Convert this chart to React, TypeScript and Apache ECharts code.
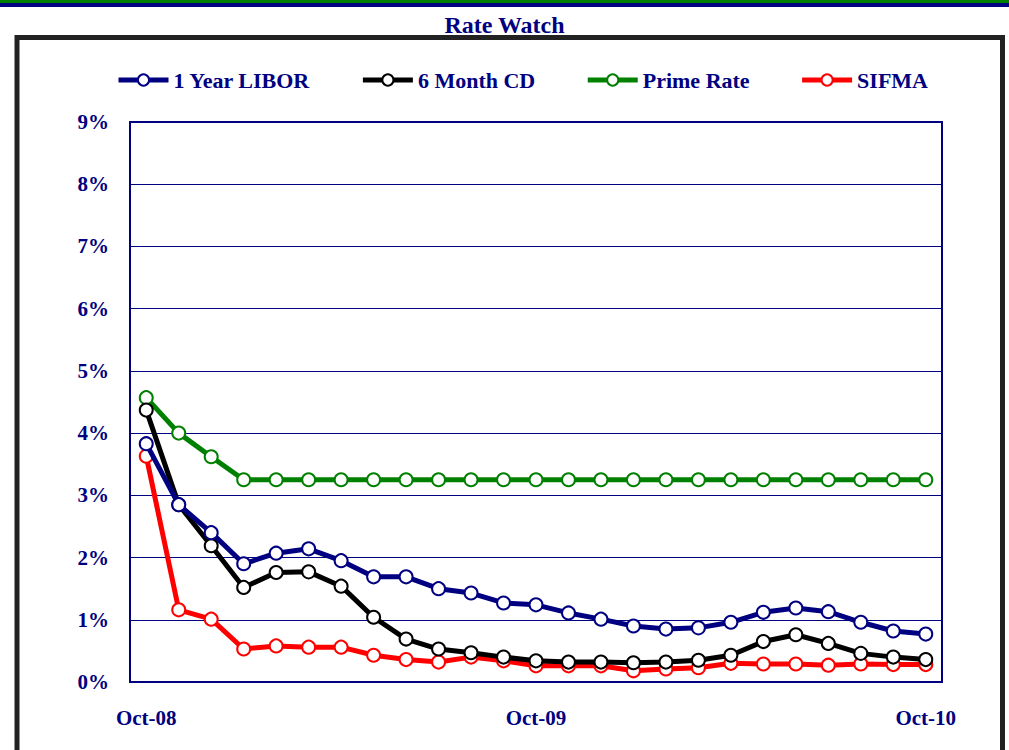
import React, { useEffect, useRef } from "react";
import * as echarts from "echarts";

const months = [
  "Oct-08", "Nov-08", "Dec-08", "Jan-09", "Feb-09", "Mar-09", "Apr-09", "May-09", "Jun-09",
  "Jul-09", "Aug-09", "Sep-09", "Oct-09", "Nov-09", "Dec-09", "Jan-10", "Feb-10", "Mar-10",
  "Apr-10", "May-10", "Jun-10", "Jul-10", "Aug-10", "Sep-10", "Oct-10",
];

const libor = [3.83, 2.85, 2.4, 1.9, 2.07, 2.14, 1.95, 1.69, 1.69, 1.5, 1.43, 1.27, 1.24, 1.11, 1.01, 0.9, 0.85, 0.87, 0.96, 1.12, 1.19, 1.13, 0.96, 0.82, 0.77];
const cd6m = [4.37, 2.85, 2.19, 1.52, 1.76, 1.77, 1.54, 1.04, 0.69, 0.53, 0.47, 0.4, 0.34, 0.32, 0.32, 0.31, 0.32, 0.35, 0.43, 0.65, 0.76, 0.62, 0.46, 0.4, 0.36];
const prime = [4.57, 4.0, 3.62, 3.25, 3.25, 3.25, 3.25, 3.25, 3.25, 3.25, 3.25, 3.25, 3.25, 3.25, 3.25, 3.25, 3.25, 3.25, 3.25, 3.25, 3.25, 3.25, 3.25, 3.25, 3.25];
const sifma = [3.63, 1.16, 1.01, 0.53, 0.58, 0.56, 0.56, 0.43, 0.36, 0.32, 0.4, 0.34, 0.26, 0.26, 0.26, 0.18, 0.21, 0.23, 0.3, 0.29, 0.29, 0.27, 0.29, 0.28, 0.28];

const seriesNames = ["1 Year LIBOR", "6 Month CD", "Prime Rate", "SIFMA"];
const seriesColors = ["#000080", "#000000", "#008000", "#FF0000"];
const seriesData = [libor, cd6m, prime, sifma];

const NAVY = "#000080";
const FONT = "'Liberation Serif', 'Times New Roman', serif";

export default function App() {
  const ref = useRef<HTMLDivElement>(null);
  useEffect(() => {
    if (!ref.current) return;
    const chart = echarts.init(ref.current, null, { renderer: "svg" });
    chart.setOption({
      animation: false,
      backgroundColor: "#ffffff",
      title: {
        text: "Rate Watch",
        left: "center",
        top: 8,
        textStyle: { fontFamily: FONT, fontWeight: "bold", fontSize: 24, color: NAVY },
      },
      graphic: [
        { type: "rect", shape: { x: 0, y: 0, width: 1009, height: 3 }, style: { fill: "#008000" } },
        { type: "rect", shape: { x: 0, y: 3, width: 1009, height: 4 }, style: { fill: "#000080" } },
        {
          type: "rect",
          shape: { x: 17, y: 37.5, width: 985.5, height: 740 },
          style: { fill: "none", stroke: "#222222", lineWidth: 5 },
        },
      ],
      legend: {
        data: seriesNames.map((name, i) => ({
          name,
          itemStyle: { color: "#ffffff", borderColor: seriesColors[i], borderWidth: 2 },
          lineStyle: { color: seriesColors[i], width: 5 },
        })),
        left: 111,
        top: 64,
        itemWidth: 50,
        itemHeight: 14,
        itemGap: 50,
        lineStyle: { width: 5 },
        textStyle: { fontFamily: FONT, fontWeight: "bold", fontSize: 22, color: NAVY },
      },
      grid: {
        left: 130,
        top: 122,
        right: 67,
        bottom: 68,
        show: true,
        borderColor: NAVY,
        borderWidth: 2,
        backgroundColor: "transparent",
      },
      xAxis: {
        type: "category",
        data: months,
        boundaryGap: true,
        axisLine: { show: false },
        axisTick: { show: false },
        axisLabel: {
          interval: 11,
          margin: 25,
          fontFamily: FONT,
          fontWeight: "bold",
          fontSize: 21,
          color: NAVY,
        },
        splitLine: { show: false },
      },
      yAxis: {
        type: "value",
        min: 0,
        max: 9,
        interval: 1,
        axisLine: { show: false },
        axisTick: { show: false },
        axisLabel: {
          formatter: "{value}%",
          margin: 21,
          fontFamily: FONT,
          fontWeight: "bold",
          fontSize: 21,
          color: NAVY,
        },
        splitLine: { show: true, lineStyle: { color: NAVY, width: 1 } },
      },
      series: seriesNames.map((name, i) => ({
        name,
        type: "line",
        data: seriesData[i],
        smooth: false,
        symbol: "circle",
        symbolSize: 13,
        showAllSymbol: true,
        lineStyle: { color: seriesColors[i], width: 5 },
        itemStyle: { color: "#ffffff", borderColor: seriesColors[i], borderWidth: 2 },
        z: 2 + (3 - i),
      })),
    });
    return () => chart.dispose();
  }, []);
  return (
    <div
      ref={ref}
      style={{ position: "fixed", left: 0, top: 0, width: 1009, height: 750 }}
    />
  );
}
